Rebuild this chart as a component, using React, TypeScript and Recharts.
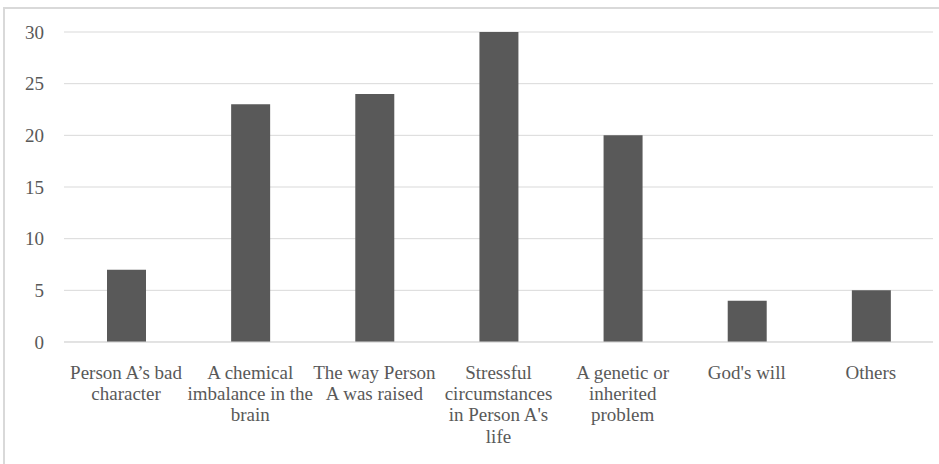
import { BarChart, Bar, XAxis, YAxis, CartesianGrid } from "recharts";

const categories = [
  "Person A’s bad\ncharacter",
  "A chemical\nimbalance in the\nbrain",
  "The way Person\nA was raised",
  "Stressful\ncircumstances\nin Person A's\nlife",
  "A genetic or\ninherited\nproblem",
  "God's will",
  "Others",
];
const counts = [7, 23, 24, 30, 20, 4, 5];
const yTicks = [0, 5, 10, 15, 20, 25, 30];

const chartData = categories.map((name, i) => ({ name, value: counts[i] }));

const FONT = "'Liberation Serif', 'Times New Roman', Times, serif";
const TEXT = "#595959";

function CategoryTick({ x, y, payload }: any) {
  const lines = String(payload.value).split("\n");
  return (
    <text x={x} y={y} textAnchor="middle" fill={TEXT} style={{ fontFamily: FONT, fontSize: 19 }}>
      {lines.map((line, i) => (
        <tspan key={i} x={x} dy={i === 0 ? 29 : 21.2}>
          {line}
        </tspan>
      ))}
    </text>
  );
}

function ValueTick({ x, y, payload }: any) {
  return (
    <text x={x} y={y} dy="0.355em" textAnchor="end" fill={TEXT} style={{ fontFamily: FONT, fontSize: 19 }}>
      {payload.value}
    </text>
  );
}

export default function App() {
  return (
    <div style={{ position: "absolute", left: 0, top: 0, width: 939, height: 464, background: "#fff", fontFamily: FONT }}>
      <div
        style={{
          position: "absolute",
          left: 3,
          top: 7,
          width: 936,
          height: 457,
          borderTop: "2px solid #d9d9d9",
          borderLeft: "2px solid #d9d9d9",
          boxSizing: "border-box",
        }}
      />
      <div style={{ position: "absolute", left: 0, top: 0 }}>
        <BarChart width={939} height={464} data={chartData} margin={{ top: 32, right: 6, bottom: 2, left: 0 }}>
          <CartesianGrid vertical={false} stroke="#d9d9d9" />
          <XAxis
            dataKey="name"
            height={120}
            interval={0}
            tickLine={false}
            axisLine={{ stroke: "#d9d9d9" }}
            tick={<CategoryTick />}
          />
          <YAxis
            width={64}
            domain={[0, 30]}
            ticks={yTicks}
            tickLine={false}
            axisLine={false}
            tickMargin={14}
            tick={<ValueTick />}
          />
          <Bar dataKey="value" fill="#595959" barSize={39} isAnimationActive={false} />
        </BarChart>
      </div>
    </div>
  );
}
